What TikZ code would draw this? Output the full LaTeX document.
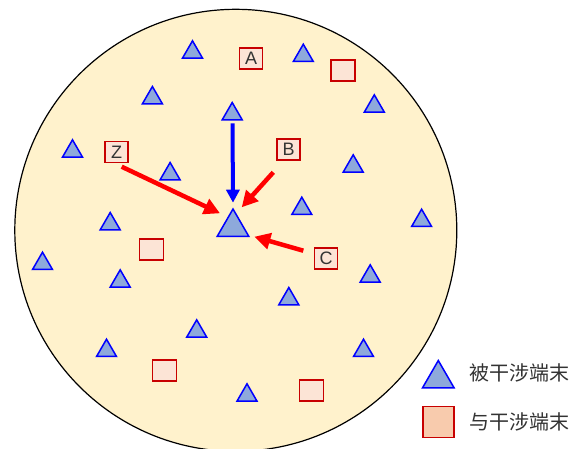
\documentclass[tikz,border=0pt]{standalone}
\usepackage{fontspec}
\setmainfont{Liberation Sans}
\newfontfamily\cjk{Noto Sans CJK SC}
\usetikzlibrary{shapes.geometric,arrows.meta,calc}
\definecolor{bgfill}{HTML}{FFF2CC}
\definecolor{triblue}{HTML}{0000FF}
\definecolor{trifill}{HTML}{8EA9DB}
\definecolor{sqred}{HTML}{C80000}
\definecolor{sqfill}{HTML}{FCE4D6}
\definecolor{legfill}{HTML}{F8CBAD}
\definecolor{textgray}{HTML}{333333}
\definecolor{arrred}{HTML}{FF0000}
\tikzset{
  tri/.style={regular polygon, regular polygon sides=3, minimum size=23pt, inner sep=0pt,
    draw=triblue, fill=trifill, line width=1.5pt},
  bigtri/.style={tri, minimum size=36.6pt},
  sq/.style={rectangle, draw=sqred, fill=sqfill, line width=1.6pt, minimum width=23pt,
    minimum height=21pt, inner sep=0pt, text=textgray, font=\fontsize{18}{18}\selectfont},
  plainsq/.style={sq, minimum width=24pt},
  legsq/.style={sq, fill=legfill, minimum width=31pt, minimum height=31pt},
  redarrow/.style={draw=arrred, line width=4.5pt, -{Triangle[length=16pt,width=16pt]}},
  bluearrow/.style={draw=triblue, line width=4pt, -{Triangle[length=13pt,width=13pt]}},
  legtext/.style={anchor=west, inner sep=0pt, text=textgray, font=\cjk\fontsize{20}{20}\selectfont}
}
\begin{document}
\begin{tikzpicture}[x=1pt,y=-1pt]
\useasboundingbox (0,0) rectangle (577,448);
\draw[fill=bgfill, line width=1.2pt] (235.8,230.3) circle[radius=221];
% small triangles
\node[tri] (t1) at (192.5,52.3) {};
\node[tri] (t2) at (303.3,55.7) {};
\node[tri] (t3) at (152.4,98) {};
\node[tri] (t4) at (374.3,106.3) {};
\node[tri] (t5) at (232.2,114) {};
\node[tri] (t6) at (72.5,151.3) {};
\node[tri] (t7) at (170.1,174) {};
\node[tri] (t8) at (353.2,166.3) {};
\node[tri] (t9) at (301.8,208.7) {};
\node[tri] (t10) at (110.2,224) {};
\node[tri] (t11) at (421.6,220.7) {};
\node[tri] (t12) at (42.5,263.7) {};
\node[tri] (t13) at (120.2,281.3) {};
\node[tri] (t14) at (370.2,276.3) {};
\node[tri] (t15) at (288.8,299) {};
\node[tri] (t16) at (196.7,331.3) {};
\node[tri] (t17) at (106.5,350.7) {};
\node[tri] (t18) at (363.5,350.7) {};
\node[tri] (t19) at (247,395.3) {};
\node[bigtri] (big) at (233,227.3) {};
% squares
\node[sq] (A) at (251,58.5) {A};
\node[sq] (Z) at (116.5,152) {Z};
\node[sq] (B) at (288.7,149.5) {B};
\node[sq] (C) at (326,258.3) {C};
\node[plainsq] (s1) at (343,70.5) {};
\node[plainsq] (s2) at (151.3,249.2) {};
\node[plainsq] (s3) at (164.6,370.2) {};
\node[plainsq] (s4) at (311.6,390.5) {};
% arrows
\draw[bluearrow] ($(t5)+(0.3,9.3)$) -- ($(big)+(0,-24.6)$);
\draw[redarrow] ($(Z)+(5.2,14.7)$) -- ($(big)+(-13,-14)$);
\draw[redarrow] ($(B)+(-15.4,22.8)$) -- ($(big)+(8.7,-20)$);
\draw[redarrow] ($(C)+(-22.7,-7.6)$) -- ($(big)+(21.3,9.4)$);
% legend
\node[bigtri] (legtri) at (438.3,378.8) {};
\node[legsq] (legsq) at (438.5,422) {};
\node[legtext] (leg1) at (469,373.3) {被干涉端末};
\node[legtext] (leg2) at (469,422.3) {与干涉端末};
\end{tikzpicture}
\end{document}
